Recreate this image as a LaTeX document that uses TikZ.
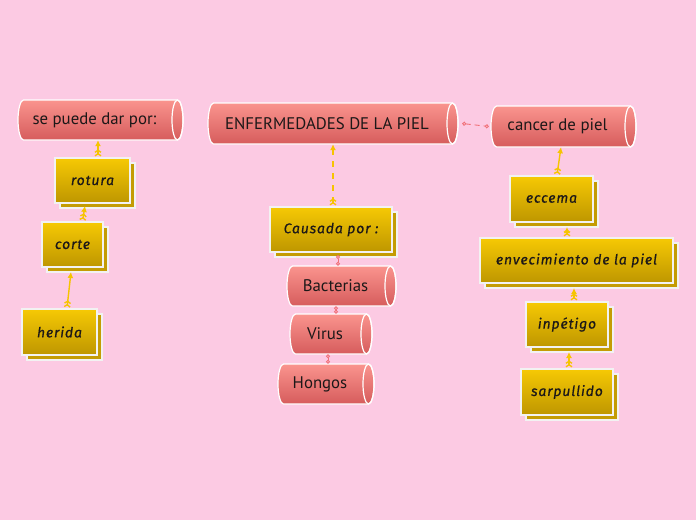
\documentclass[tikz,border=0pt]{standalone}
\usepackage{fontspec}
\setmainfont{Liberation Sans}
\newfontfamily\cylfont{PT Sans}
\newfontfamily\handfont{Fira Sans}[LetterSpace=6,FakeBold=0.6]
\usetikzlibrary{arrows.meta,calc}
\definecolor{bg}{RGB}{252,202,227}
\definecolor{cyltop}{RGB}{250,148,142}
\definecolor{cylbot}{RGB}{214,92,92}
\definecolor{yeltop}{RGB}{246,201,4}
\definecolor{yelbot}{RGB}{190,150,0}
\definecolor{yelshadow}{RGB}{196,156,4}
\definecolor{edge}{RGB}{242,242,242}
\definecolor{conny}{RGB}{246,196,0}
\definecolor{connr}{RGB}{240,112,120}
\definecolor{ink}{RGB}{28,24,24}
\tikzset{
  cyltext/.style={inner sep=0pt, text=ink, font=\cylfont\fontsize{16.8}{18}\selectfont},
  ybox/.style={draw=edge, line width=2pt, top color=yeltop, bottom color=yelbot, inner sep=0pt,
     text=ink, font=\handfont\itshape\fontsize{14}{16}\selectfont},
  yshad/.style={draw=edge, line width=2pt, fill=yelshadow},
  conn/.style={draw=conny, line width=1.4pt,
     arrows={Straight Barb[reversed,length=2pt,width=6pt,sep=0.5pt]Straight Barb[reversed,length=2pt,width=6pt]-Latex[length=6pt,width=6pt]}},
  rconn/.style={draw=connr, line width=0.9pt, arrows={Circle[open,length=4pt,width=4pt]-Circle[open,length=4pt,width=4pt]}},
}
% cylinder: name, cx, cy, width, height, text
\newcommand\mycyl[6]{%
  \pgfmathsetmacro\xa{#2-#4/2}\pgfmathsetmacro\xb{#2+#4/2}%
  \pgfmathsetmacro\ya{#3-#5/2}\pgfmathsetmacro\yb{#3+#5/2}\pgfmathsetmacro\ry{#5/2}%
  \shade[top color=cyltop, bottom color=cylbot] (\xa+5.5,\ya) -- (\xb-5.5,\ya)
     arc[start angle=90,end angle=-90,x radius=5.5pt,y radius=\ry pt] -- (\xa+5.5,\yb)
     arc[start angle=270,end angle=90,x radius=5.5pt,y radius=\ry pt] -- cycle;
  \draw[white, line width=1.2pt] (\xa+5.5,\ya) -- (\xb-5.5,\ya)
     arc[start angle=90,end angle=-90,x radius=5.5pt,y radius=\ry pt] -- (\xa+5.5,\yb)
     arc[start angle=270,end angle=90,x radius=5.5pt,y radius=\ry pt] -- cycle;
  \draw[white, line width=1.2pt] (\xb-5.5,#3) ellipse[x radius=5.5pt, y radius=\ry pt];
  \node[cyltext, minimum width=#4, minimum height=#5] (#1) at (#2,#3) {\hspace*{-12pt}#6};
}
% yellow box: name, cx, cy, width, height, text
\newcommand\myybox[6]{%
  \path[yshad] (#2-#4/2+5,#3-#5/2+5) rectangle (#2+#4/2+5,#3+#5/2+5);
  \node[ybox, minimum width=#4, minimum height=#5] (#1) at (#2,#3) {#6};
}
\begin{document}
\begin{tikzpicture}[x=1pt,y=-1pt]
\fill[bg] (0,0) rectangle (696,520);
\useasboundingbox (0,0) rectangle (696,520);

\mycyl{puede}{100.5}{120}{165}{40}{se puede dar por:}
\mycyl{enf}{333}{123.5}{250}{41}{ENFERMEDADES DE LA PIEL}
\mycyl{cancer}{563.5}{126.5}{145}{41}{cancer de piel}
\mycyl{bact}{341.5}{286}{109}{40}{Bacterias}
\mycyl{virus}{331}{334}{82}{40}{Virus}
\mycyl{hongos}{326}{384}{96}{40}{Hongos}

\myybox{rotura}{92.5}{180.5}{75}{45}{rotura}
\myybox{corte}{72.5}{244.5}{61}{45}{corte}
\myybox{herida}{59.5}{332}{75}{46}{herida}
\myybox{causada}{331}{229.5}{122}{45}{Causada por :}
\myybox{eccema}{551.5}{199}{83}{46}{eccema}
\myybox{envec}{576.5}{260.5}{193}{45}{envecimiento de la piel}
\myybox{inpetigo}{567}{324.5}{82}{45}{inpétigo}
\myybox{sarpullido}{567}{392}{92}{46}{sarpullido}

% yellow connectors
\draw[conn] ([xshift=5.5pt]rotura.north) -- ([xshift=5.5pt]rotura.north |- puede.south);
\draw[conn] ([xshift=10pt]corte.north) -- ([xshift=-7.5pt,yshift=-2pt]rotura.south);
\draw[conn] ([xshift=7.5pt]herida.north) -- ([xshift=-1.5pt,yshift=-4pt]corte.south);
\draw[conn, dash pattern=on 6pt off 6pt] (causada.north -| enf.south) -- (enf.south);
\draw[conn] ([xshift=5.5pt]eccema.north) -- ([xshift=-2.5pt]cancer.south);
\draw[conn] ([xshift=-9.5pt]envec.north) -- ([xshift=-9.5pt,yshift=-4pt]envec.north |- eccema.south);
\draw[conn] ([xshift=7pt]inpetigo.north) -- ([xshift=7pt,yshift=-4pt]inpetigo.north |- envec.south);
\draw[conn] ([xshift=2pt]sarpullido.north) -- ([xshift=2pt,yshift=-4pt]sarpullido.north |- inpetigo.south);

% red connectors
\draw[rconn, dash pattern=on 5pt off 4pt] ([xshift=4pt]enf.east) -- ([xshift=-2pt]cancer.west);
\draw[rconn] ([xshift=7pt,yshift=-2pt]causada.south) -- ([xshift=-3.5pt]bact.north);
\draw[rconn] ([xshift=-5.5pt]bact.south) -- ([xshift=5pt]virus.north);
\draw[rconn] ([xshift=-3pt]virus.south) -- ([xshift=2pt]hongos.north);
\end{tikzpicture}
\end{document}
